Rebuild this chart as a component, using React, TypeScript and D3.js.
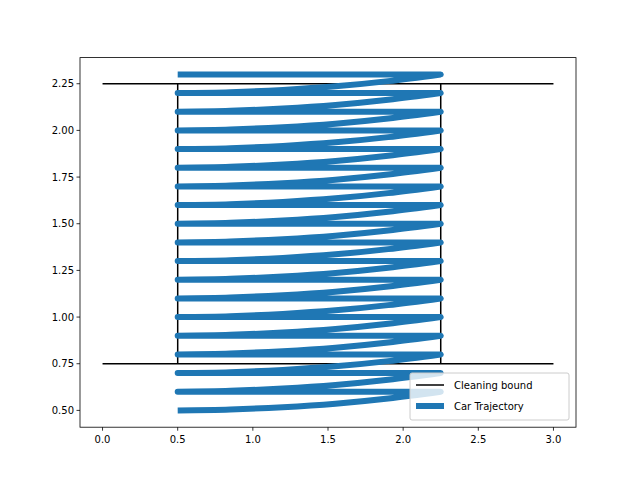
import * as d3 from 'd3'

// start height of each sweep (ends 0.1 higher at the right wall)
const rowStarts = [0.5, 0.6, 0.7, 0.8, 0.9, 1.0, 1.1, 1.2, 1.3, 1.4, 1.5, 1.6, 1.7, 1.8, 1.9, 2.0, 2.1, 2.2]
const rowStep = 0.1
const sweepLeft = 0.5
const sweepRight = 2.25
// fraction of x span vs fraction of rise
const profileX = [0, 0.2, 0.4, 0.6, 0.8, 1.0]
const profileRise = [0, 0.05, 0.17, 0.36, 0.64, 1.0]

const boundY = [0.75, 2.25]
const boundX = [0.5, 2.25]
const boundXSpan = [0, 3]

const xTicks = [0, 0.5, 1, 1.5, 2, 2.5, 3]
const yTicks = [0.5, 0.75, 1.0, 1.25, 1.5, 1.75, 2.0, 2.25]

export default function App() {
  const W = 640, H = 480
  const m = { left: 80, right: 64, top: 57.6, bottom: 52.8 }
  const x = d3.scaleLinear().domain([-0.15, 3.15]).range([m.left, W - m.right])
  const y = d3.scaleLinear().domain([0.41, 2.39]).range([H - m.bottom, m.top])

  const pts: [number, number][] = []
  rowStarts.forEach(y0 => {
    profileX.forEach((f, i) => pts.push([sweepLeft + f * (sweepRight - sweepLeft), y0 + profileRise[i] * rowStep]))
    pts.push([sweepLeft, y0 + rowStep])
  })
  // piecewise: curve for sweeps, straight returns
  const segs: [number, number][][] = []
  rowStarts.forEach(y0 => {
    segs.push(profileX.map((f, i) => [sweepLeft + f * (sweepRight - sweepLeft), y0 + profileRise[i] * rowStep]))
    segs.push([[sweepRight, y0 + rowStep], [sweepLeft, y0 + rowStep]])
  })
  const curve = d3.line<[number, number]>().x(d => x(d[0])).y(d => y(d[1])).curve(d3.curveMonotoneX)
  const d = segs.map(s => curve(s)!).join(' ').replace(/ M/g, ' L')

  const font = { fontFamily: 'DejaVu Sans', fontSize: 10 }
  const lx = 410, ly = 373

  return (
    <svg width={W} height={H} style={{ position: 'absolute', left: 0, top: 0, background: '#fff' }}>
      {boundY.map(v => (
        <line key={'h' + v} x1={x(boundXSpan[0])} x2={x(boundXSpan[1])} y1={y(v)} y2={y(v)} stroke="#000" strokeWidth={1.5} />
      ))}
      {boundX.map(v => (
        <line key={'v' + v} x1={x(v)} x2={x(v)} y1={y(boundY[0])} y2={y(boundY[1])} stroke="#000" strokeWidth={1.5} />
      ))}
      <path d={d} fill="none" stroke="#1f77b4" strokeWidth={6} strokeLinejoin="round" />
      <rect x={m.left} y={m.top} width={W - m.left - m.right} height={H - m.top - m.bottom} fill="none" stroke="#000" strokeWidth={0.8} />
      {xTicks.map(t => (
        <g key={'x' + t}>
          <line x1={x(t)} x2={x(t)} y1={H - m.bottom} y2={H - m.bottom + 3.5} stroke="#000" strokeWidth={0.8} />
          <text x={x(t)} y={H - m.bottom + 16} textAnchor="middle" {...font}>{t.toFixed(1)}</text>
        </g>
      ))}
      {yTicks.map(t => (
        <g key={'y' + t}>
          <line x1={m.left - 3.5} x2={m.left} y1={y(t)} y2={y(t)} stroke="#000" strokeWidth={0.8} />
          <text x={m.left - 6} y={y(t) + 3.5} textAnchor="end" {...font}>{t.toFixed(2)}</text>
        </g>
      ))}
      <rect x={lx} y={ly} width={159} height={47} rx={2} fill="#fff" fillOpacity={0.8} stroke="#ccc" />
      <line x1={lx + 6} x2={lx + 34} y1={ly + 12} y2={ly + 12} stroke="#000" strokeWidth={1.5} />
      <text x={lx + 44} y={ly + 16} {...font}>Cleaning bound</text>
      <line x1={lx + 6} x2={lx + 34} y1={ly + 33} y2={ly + 33} stroke="#1f77b4" strokeWidth={6} />
      <text x={lx + 44} y={ly + 37} {...font}>Car Trajectory</text>
    </svg>
  )
}
